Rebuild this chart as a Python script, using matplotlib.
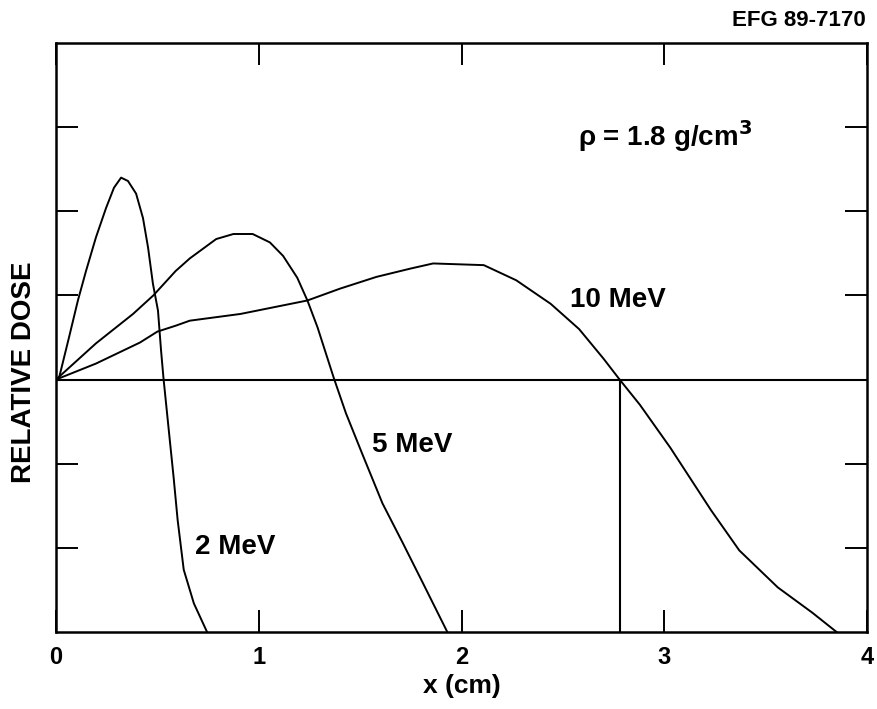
import matplotlib
matplotlib.use("Agg")
import matplotlib.pyplot as plt

plt.rcParams['font.family'] = ['Liberation Sans', 'DejaVu Sans']
plt.rcParams['font.weight'] = 'bold'

# Data (x in cm, relative dose in axis units 0..7)
x_2mev = [0.0, 0.015, 0.064, 0.108, 0.148, 0.197, 0.247, 0.286, 0.321, 0.355,
          0.395, 0.429, 0.454, 0.478, 0.503, 0.518, 0.53, 0.56, 0.58, 0.60,
          0.63, 0.68, 0.745]
y_2mev = [3.0, 3.02, 3.50, 3.94, 4.29, 4.69, 5.04, 5.28, 5.40, 5.36,
          5.21, 4.92, 4.57, 4.14, 3.82, 3.35, 3.02, 2.31, 1.84, 1.33,
          0.74, 0.34, 0.0]

x_5mev = [0.0, 0.197, 0.38, 0.48, 0.59, 0.66, 0.79, 0.875, 0.97, 1.055, 1.12,
          1.19, 1.24, 1.29, 1.37, 1.43, 1.51, 1.61, 1.71, 1.81, 1.93]
y_5mev = [3.0, 3.43, 3.78, 4.00, 4.29, 4.44, 4.67, 4.73, 4.73, 4.63, 4.47,
          4.21, 3.94, 3.62, 3.02, 2.60, 2.12, 1.53, 1.06, 0.58, 0.0]

x_10mev = [0.0, 0.197, 0.414, 0.50, 0.59, 0.66, 0.91, 1.24, 1.40, 1.58, 1.75,
           1.86, 2.11, 2.27, 2.44, 2.58, 2.70, 2.78, 2.88, 3.03, 3.23, 3.37,
           3.56, 3.73, 3.85]
y_10mev = [3.0, 3.19, 3.44, 3.57, 3.64, 3.70, 3.78, 3.94, 4.08, 4.22, 4.32,
           4.38, 4.36, 4.18, 3.90, 3.60, 3.25, 3.0, 2.70, 2.19, 1.45, 0.97,
           0.53, 0.23, 0.0]

ref_level = 3.0
x_cross = 2.78

x_ticks = [0, 1, 2, 3, 4]
x_ticklabels = ['0', '1', '2', '3', '4']
y_ticks = [1, 2, 3, 4, 5, 6]

curve_labels = ['2 MeV', '5 MeV', '10 MeV']
label_pos = [(0.686, 1.01), (1.56, 2.22), (2.535, 3.94)]

fig = plt.figure(figsize=(8.77, 7.09), dpi=100)
ax = fig.add_axes([56/877, 1 - 632/709, (867-56)/877, (632-43)/709])

lw = 1.4
for xs, ys in [(x_2mev, y_2mev), (x_5mev, y_5mev), (x_10mev, y_10mev)]:
    ax.plot(xs, ys, color='black', lw=lw, solid_joinstyle='round')

ax.axhline(ref_level, color='black', lw=1.5)
ax.plot([x_cross, x_cross], [0, ref_level], color='black', lw=1.5)

ax.set_xlim(0, 4)
ax.set_ylim(0, 7)
ax.set_xticks(x_ticks)
ax.set_xticklabels(x_ticklabels, fontsize=17, fontweight='bold')
ax.set_yticks(y_ticks)
ax.set_yticklabels([])
ax.tick_params(direction='in', length=15.5, width=1.4, top=True, right=True,
               pad=10)
for s in ax.spines.values():
    s.set_linewidth(1.8)

ax.set_xlabel('x (cm)', fontsize=19, fontweight='bold', labelpad=4)
fig.text(24/877, 1 - 372/709, 'RELATIVE DOSE', fontsize=20, fontweight='bold',
         rotation=90, ha='center', va='center')

for lab, (lx, ly) in zip(curve_labels, label_pos):
    ax.text(lx, ly, lab, fontsize=20, fontweight='bold', ha='left', va='center')

ax.text(2.575, 5.9, 'ρ = 1.8 g/cm$^\\mathbf{3}$', fontsize=20, fontweight='bold',
        ha='left', va='center')

fig.text(866/877, 1 - 21/709, 'EFG 89-7170', fontsize=16, fontweight='bold',
         ha='right', va='center')

fig.savefig('out.png', dpi=100)
